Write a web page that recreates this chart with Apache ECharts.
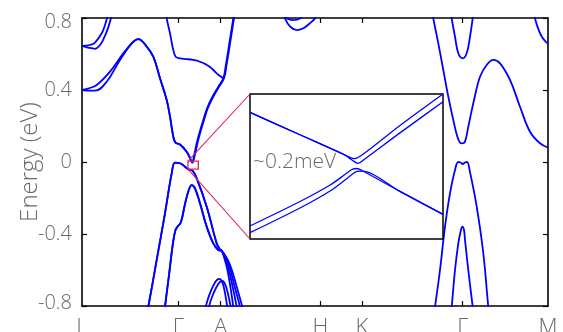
<!DOCTYPE html>
<html>
<head>
<meta charset="utf-8">
<script src="https://cdn.jsdelivr.net/npm/echarts@6/dist/echarts.min.js"></script>
<style>
  html, body { margin: 0; padding: 0; background: #fff; }
  #chart { width: 563px; height: 332px; }
</style>
</head>
<body>
<div id="chart"></div>
<script>
// High-symmetry points along the k-path
const kPoints = [0, 0.963, 1.387, 2.383, 2.800, 3.807, 4.660];
const kLabels = ['L', 'Γ', 'A', 'H', 'K', 'Γ', 'M'];
const energyTicks = [-0.8, -0.4, 0, 0.4, 0.8];

// Bands as [k, E (eV)]
const bandL_upper1 = [[0, 0.645], [0.08, 0.65], [0.13, 0.663], [0.197, 0.715], [0.23, 0.761], [0.26, 0.822], [0.28, 0.872]];
const bandL_upper2 = [[0, 0.645], [0.06, 0.636], [0.13, 0.629], [0.18, 0.65], [0.22, 0.689], [0.26, 0.744], [0.29, 0.8], [0.31, 0.856]];

const cbRiseA = [[0, 0.4], [0.06, 0.408], [0.147, 0.428], [0.28, 0.502], [0.413, 0.604], [0.513, 0.668]];
const cbRiseB = [[0, 0.4], [0.06, 0.397], [0.13, 0.396], [0.247, 0.446], [0.38, 0.567], [0.497, 0.659]];
const cbFall = [[0.563, 0.683], [0.647, 0.641], [0.713, 0.585], [0.78, 0.465], [0.847, 0.344], [0.88, 0.252],
  [0.913, 0.141], [0.935, 0.108], [0.98, 0.097], [1.047, 0.057], [1.08, 0.022], [1.103, -0.003]];
const steepA = [[1.12, 0.033], [1.15, 0.111], [1.18, 0.172], [1.213, 0.233], [1.25, 0.297], [1.297, 0.354],
  [1.363, 0.418], [1.413, 0.465], [1.44, 0.544], [1.463, 0.622], [1.488, 0.711], [1.513, 0.798], [1.53, 0.856]];
const steepB = [[1.126, 0.033], [1.157, 0.111], [1.187, 0.172], [1.22, 0.233], [1.257, 0.297], [1.304, 0.354],
  [1.37, 0.418], [1.42, 0.465], [1.447, 0.544], [1.47, 0.622], [1.495, 0.711], [1.52, 0.798], [1.537, 0.856]];

const flatBand = [[0.835, 0.856], [0.847, 0.798], [0.88, 0.715], [0.913, 0.622], [0.937, 0.585], [0.98, 0.576],
  [1.047, 0.572], [1.11, 0.567], [1.18, 0.557], [1.24, 0.542], [1.28, 0.528], [1.313, 0.511], [1.36, 0.486],
  [1.397, 0.471], [1.413, 0.465]];

const ahPocketOuter = [[2.005, 0.844], [2.03, 0.798], [2.08, 0.753], [2.147, 0.733], [2.213, 0.743], [2.28, 0.771], [2.33, 0.798], [2.36, 0.828]];
const ahPocketInner = [[2.02, 0.822], [2.05, 0.797], [2.113, 0.788], [2.18, 0.797], [2.21, 0.817]];

const vb1 = [[0.65, -0.833], [0.663, -0.804], [0.747, -0.544], [0.83, -0.285], [0.897, -0.063], [0.93, -0.004],
  [0.98, -0.007], [1.03, -0.026], [1.063, -0.041], [1.103, -0.047], [1.147, -0.091], [1.247, -0.248],
  [1.347, -0.452], [1.38, -0.486], [1.397, -0.493]];
const vb2 = [[0.825, -0.833], [0.83, -0.804], [0.87, -0.628], [0.91, -0.45], [0.935, -0.378], [0.96, -0.356],
  [0.99, -0.333], [1.03, -0.233], [1.065, -0.161], [1.097, -0.128], [1.13, -0.146], [1.18, -0.229],
  [1.247, -0.359], [1.313, -0.452], [1.363, -0.489], [1.397, -0.494]];
const ahBranch1 = [[1.42, -0.528], [1.45, -0.589], [1.483, -0.689], [1.513, -0.804], [1.521, -0.833]];
const ahBranch2 = [[1.43, -0.531], [1.465, -0.592], [1.505, -0.689], [1.547, -0.804], [1.556, -0.833]];
const ahBranch3 = [[1.44, -0.533], [1.48, -0.592], [1.525, -0.689], [1.58, -0.804], [1.59, -0.833]];
const ahBranch4 = [[1.45, -0.536], [1.495, -0.594], [1.545, -0.689], [1.603, -0.804], [1.613, -0.833]];

const capA = [[1.228, -0.833], [1.237, -0.804], [1.27, -0.744], [1.31, -0.689], [1.345, -0.658], [1.37, -0.65],
  [1.395, -0.658], [1.42, -0.7], [1.453, -0.804], [1.462, -0.833]];
const capB = [[1.261, -0.833], [1.27, -0.804], [1.3, -0.75], [1.34, -0.7], [1.375, -0.669], [1.4, -0.661],
  [1.425, -0.672], [1.453, -0.717], [1.487, -0.804], [1.496, -0.833]];

const kgVBand = [[3.505, 0.833], [3.513, 0.798], [3.563, 0.659], [3.613, 0.511], [3.663, 0.363], [3.713, 0.233],
  [3.753, 0.141], [3.78, 0.107], [3.803, 0.103], [3.83, 0.113], [3.863, 0.196], [3.913, 0.326], [3.98, 0.474],
  [4.047, 0.539], [4.113, 0.567], [4.18, 0.548], [4.28, 0.456], [4.38, 0.307], [4.48, 0.168], [4.58, 0.104], [4.663, 0.079]];
const kgUBand = [[3.69, 0.833], [3.697, 0.798], [3.73, 0.696], [3.763, 0.604], [3.807, 0.576], [3.847, 0.604],
  [3.88, 0.696], [3.907, 0.798], [3.915, 0.833]];
const mBand = [[4.51, 0.844], [4.53, 0.798], [4.56, 0.744], [4.6, 0.694], [4.647, 0.663], [4.663, 0.659]];
const gammaDoublePeak = [[3.52, -0.833], [3.53, -0.804], [3.58, -0.6], [3.63, -0.359], [3.68, -0.174], [3.73, -0.044],
  [3.763, 0], [3.785, -0.003], [3.807, -0.011], [3.83, -0.003], [3.85, 0], [3.88, -0.056], [3.947, -0.248],
  [4.013, -0.507], [4.063, -0.804], [4.072, -0.833]];
const gammaNarrowPeak = [[3.69, -0.833], [3.697, -0.804], [3.73, -0.6], [3.763, -0.452], [3.785, -0.389],
  [3.803, -0.359], [3.82, -0.378], [3.83, -0.433], [3.863, -0.6], [3.907, -0.804], [3.915, -0.833]];

// Zoomed crossing: region of the main plot and the detail bands (relative k, E in meV)
const zoomBoxK = [1.06, 1.163];
const zoomBoxE = [-0.04, 0.005];
const insetK = [0, 1];
const insetE = [-1.6, 1.6];
const insetUpper1 = [[0, 1.196], [0.259, 0.7], [0.466, 0.305], [0.518, 0.201], [0.539, 0.172], [0.56, 0.199], [0.622, 0.386], [0.777, 0.905], [1, 1.6]];
const insetUpper2 = [[0, 1.196], [0.259, 0.7], [0.492, 0.254], [0.528, 0.143], [0.56, 0.071], [0.591, 0.155], [0.777, 0.742], [1, 1.43]];
const insetLower1 = [[0, -1.313], [0.259, -0.773], [0.415, -0.408], [0.492, -0.177], [0.528, -0.066], [0.554, -0.044], [0.58, -0.088], [0.777, -0.55], [1, -1.055]];
const insetLower2 = [[0, -1.461], [0.259, -0.916], [0.415, -0.541], [0.492, -0.298], [0.528, -0.177], [0.554, -0.11], [0.58, -0.104], [0.777, -0.55], [1, -1.055]];
const gapLabel = '~0.2meV';

const BLUE = '#0000ff';
const RED = '#e0245e';
const GREY = '#6a6a6a';
const FONT = '"Open Sans", "Liberation Sans", sans-serif';

const mainBands = [
  bandL_upper1, bandL_upper2,
  cbRiseA.concat(cbFall, steepA),
  cbRiseB.concat(cbFall, steepB),
  flatBand, ahPocketOuter, ahPocketInner,
  vb1.concat(ahBranch1), vb1.concat(ahBranch2),
  vb2.concat(ahBranch3), vb2.concat(ahBranch4),
  capA, capB,
  kgVBand, kgUBand, mBand, gammaDoublePeak, gammaNarrowPeak
];
const insetBands = [insetUpper1, insetUpper2, insetLower1, insetLower2];

function lineSeries(data, xi, yi, width, smooth) {
  return {
    type: 'line', data: data, xAxisIndex: xi, yAxisIndex: yi,
    showSymbol: false, symbol: 'none', smooth: smooth, clip: true, silent: true,
    lineStyle: { color: BLUE, width: width }, z: 3
  };
}

// Energy tick labels: the end labels sit just inside the frame
function energyLabel(v) {
  const txt = Math.abs(v) < 1e-9 ? '0' : v.toFixed(1);
  if (v >= energyTicks[energyTicks.length - 1] - 1e-9) return '{hi|' + txt + '}';
  if (v <= energyTicks[0] + 1e-9) return '{lo|' + txt + '}';
  return txt;
}

const chart = echarts.init(document.getElementById('chart'), null, { renderer: 'canvas' });

const axisLine = { show: true, onZero: false, lineStyle: { color: '#000', width: 1.6 } };
const inTick = { show: true, inside: true, length: 5, lineStyle: { color: '#000', width: 1.2 } };
const labelFont = { fontFamily: FONT, fontSize: 20, color: GREY, fontWeight: 300 };

chart.setOption({
  animation: false,
  backgroundColor: '#fff',
  grid: [
    { left: 82, top: 18, right: 15, bottom: 26, containLabel: false, outerBoundsMode: 'none' },
    { left: 250, top: 94, width: 193, height: 145, show: true, backgroundColor: '#fff',
      borderColor: '#000', borderWidth: 1.5, containLabel: false, outerBoundsMode: 'none', z: 5 }
  ],
  xAxis: [
    { type: 'value', gridIndex: 0, min: 0, max: kPoints[kPoints.length - 1], position: 'bottom',
      axisLine: axisLine, splitLine: { show: false },
      axisTick: Object.assign({ customValues: kPoints.slice(1, -1) }, inTick),
      axisLabel: { customValues: kPoints, showMinLabel: true, showMaxLabel: true, margin: 11,
        fontFamily: FONT, fontSize: 22, color: GREY, fontWeight: 300,
        formatter: v => { const i = kPoints.findIndex(p => Math.abs(p - v) < 1e-6); return i >= 0 ? kLabels[i] : ''; } } },
    { type: 'value', gridIndex: 0, min: 0, max: kPoints[kPoints.length - 1], position: 'top',
      axisLine: axisLine, splitLine: { show: false },
      axisTick: Object.assign({ customValues: kPoints.slice(1, -1) }, inTick),
      axisLabel: { show: false } },
    { type: 'value', gridIndex: 1, min: insetK[0], max: insetK[1], show: false }
  ],
  yAxis: [
    { type: 'value', gridIndex: 0, min: energyTicks[0], max: energyTicks[energyTicks.length - 1], interval: 0.4,
      position: 'left', axisLine: axisLine, axisTick: inTick, splitLine: { show: false },
      name: 'Energy (eV)', nameLocation: 'middle', nameGap: 40, nameMoveOverlap: false,
      nameTextStyle: { fontFamily: FONT, fontSize: 24, color: GREY, fontWeight: 300 },
      axisLabel: Object.assign({ margin: 10, formatter: energyLabel,
        rich: { hi: Object.assign({ padding: [8, 0, 0, 0] }, labelFont),
                lo: Object.assign({ padding: [0, 0, 6, 0] }, labelFont) } }, labelFont) },
    { type: 'value', gridIndex: 0, min: energyTicks[0], max: energyTicks[energyTicks.length - 1], interval: 0.4,
      position: 'right', axisLine: axisLine, axisTick: inTick, splitLine: { show: false },
      axisLabel: { show: false } },
    { type: 'value', gridIndex: 1, min: insetE[0], max: insetE[1], show: false }
  ],
  series: mainBands.map(b => lineSeries(b, 0, 0, 1.8, 0.4))
    .concat(insetBands.map(b => Object.assign(lineSeries(b, 2, 2, 1.3, 0.3), { z: 6 })))
});

// Zoom frame on the crossing, and connectors to the inset corners
const p00 = chart.convertToPixel({ xAxisIndex: 0, yAxisIndex: 0 }, [zoomBoxK[0], zoomBoxE[1]]);
const p11 = chart.convertToPixel({ xAxisIndex: 0, yAxisIndex: 0 }, [zoomBoxK[1], zoomBoxE[0]]);
const insetTop = chart.convertToPixel({ xAxisIndex: 2, yAxisIndex: 2 }, [insetK[0], insetE[1]]);
const insetBottom = chart.convertToPixel({ xAxisIndex: 2, yAxisIndex: 2 }, [insetK[0], insetE[0]]);

chart.setOption({
  graphic: [
    { type: 'rect', z: 100, silent: true,
      shape: { x: p00[0], y: p00[1], width: p11[0] - p00[0], height: p11[1] - p00[1] },
      style: { fill: null, stroke: RED, lineWidth: 1.3 } },
    { type: 'line', z: 100, silent: true,
      shape: { x1: p00[0], y1: p00[1], x2: insetTop[0], y2: insetTop[1] },
      style: { stroke: RED, lineWidth: 1.1 } },
    { type: 'line', z: 100, silent: true,
      shape: { x1: p00[0], y1: p11[1], x2: insetBottom[0], y2: insetBottom[1] },
      style: { stroke: RED, lineWidth: 1.1 } },
    { type: 'text', z: 100, silent: true, left: insetTop[0] + 3, top: 152,
      style: { text: gapLabel, fontFamily: FONT, fontSize: 21, fontWeight: 300, fill: GREY } }
  ]
});
</script>
</body>
</html>
